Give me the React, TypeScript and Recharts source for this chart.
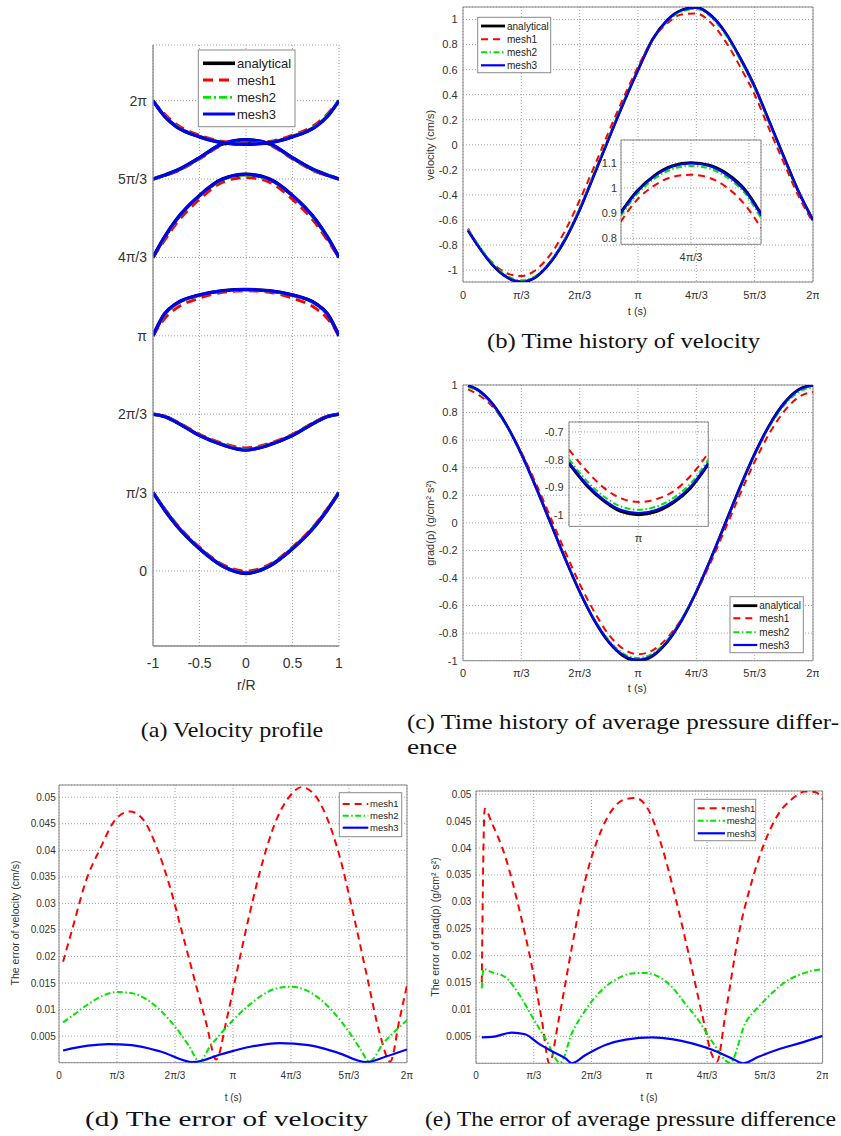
import React from 'react';
import { LineChart, Line, XAxis, YAxis, CartesianGrid, ReferenceArea } from 'recharts';

// ---------------- tick labels ----------------
const PI_TICKS = [0, 1, 2, 3, 4, 5, 6];
const PI_LABELS = ['0', 'π/3', '2π/3', 'π', '4π/3', '5π/3', '2π'];
const R_TICKS = [-1, -0.5, 0, 0.5, 1];
const VEL_TICKS = [-1, -0.8, -0.6, -0.4, -0.2, 0, 0.2, 0.4, 0.6, 0.8, 1];
const GRAD_TICKS = [-1, -0.8, -0.6, -0.4, -0.2, 0, 0.2, 0.4, 0.6, 0.8, 1];
const ERR_TICKS = [0.005, 0.01, 0.015, 0.02, 0.025, 0.03, 0.035, 0.04, 0.045, 0.05];
const INSET_B_YTICKS = [0.8, 0.9, 1.0, 1.1];
const INSET_B_XTICKS = [3.5225, 4, 4.4775];
const INSET_B_XLABELS = ['', '4π/3', ''];
const INSET_C_YTICKS = [-1, -0.9, -0.8, -0.7];
const INSET_C_XTICKS = [2.5225, 3, 3.4775];
const INSET_C_XLABELS = ['', 'π', ''];

// ---------------- (a) velocity profiles (y in units of π/3) ----------------
const R_A = [-1, -0.875, -0.75, -0.5, -0.25, 0, 0.25, 0.5, 0.75, 0.875, 1];
const A1_ANALYTICAL = [1.0, 0.78, 0.585, 0.285, 0.062, -0.03, 0.062, 0.285, 0.585, 0.78, 1.0];
const A1_MESH1 = [1.0, 0.795, 0.605, 0.305, 0.082, 0.0, 0.082, 0.305, 0.605, 0.795, 1.0];
const A1_MESH2 = [1.0, 0.785, 0.59, 0.29, 0.067, -0.022, 0.067, 0.29, 0.59, 0.785, 1.0];
const A1_MESH3 = [1.0, 0.78, 0.585, 0.285, 0.062, -0.028, 0.062, 0.285, 0.585, 0.78, 1.0];
const A2_ANALYTICAL = [2.0, 1.97, 1.9, 1.73, 1.61, 1.545, 1.61, 1.73, 1.9, 1.97, 2.0];
const A2_MESH1 = [2.0, 1.975, 1.91, 1.745, 1.628, 1.57, 1.628, 1.745, 1.91, 1.975, 2.0];
const A2_MESH2 = [2.0, 1.972, 1.903, 1.735, 1.615, 1.552, 1.615, 1.735, 1.903, 1.972, 2.0];
const A2_MESH3 = [2.0, 1.97, 1.9, 1.73, 1.608, 1.542, 1.608, 1.73, 1.9, 1.97, 2.0];
const A3_ANALYTICAL = [3.0, 3.28, 3.41, 3.52, 3.575, 3.59, 3.575, 3.52, 3.41, 3.28, 3.0];
const A3_MESH1 = [3.0, 3.22, 3.35, 3.48, 3.555, 3.575, 3.555, 3.48, 3.35, 3.22, 3.0];
const A3_MESH2 = [3.0, 3.27, 3.4, 3.515, 3.57, 3.585, 3.57, 3.515, 3.4, 3.27, 3.0];
const A3_MESH3 = [3.0, 3.28, 3.41, 3.52, 3.575, 3.59, 3.575, 3.52, 3.41, 3.28, 3.0];
const A4_ANALYTICAL = [4.0, 4.26, 4.48, 4.79, 5.0, 5.06, 5.0, 4.79, 4.48, 4.26, 4.0];
const A4_MESH1 = [4.0, 4.22, 4.43, 4.74, 4.96, 5.02, 4.96, 4.74, 4.43, 4.22, 4.0];
const A4_MESH2 = [4.0, 4.25, 4.47, 4.785, 4.99, 5.05, 4.99, 4.785, 4.47, 4.25, 4.0];
const A4_MESH3 = [4.0, 4.26, 4.48, 4.79, 5.0, 5.06, 5.0, 4.79, 4.48, 4.26, 4.0];
const A5_ANALYTICAL = [5.0, 5.05, 5.106, 5.27, 5.45, 5.5, 5.45, 5.27, 5.106, 5.05, 5.0];
const A5_MESH1 = [5.0, 5.045, 5.095, 5.255, 5.435, 5.485, 5.435, 5.255, 5.095, 5.045, 5.0];
const A5_MESH2 = [5.0, 5.05, 5.104, 5.265, 5.446, 5.497, 5.446, 5.265, 5.104, 5.05, 5.0];
const A5_MESH3 = [5.0, 5.05, 5.106, 5.27, 5.45, 5.5, 5.45, 5.27, 5.106, 5.05, 5.0];
const A6_ANALYTICAL = [6.0, 5.8, 5.67, 5.54, 5.465, 5.445, 5.465, 5.54, 5.67, 5.8, 6.0];
const A6_MESH1 = [6.0, 5.83, 5.7, 5.56, 5.48, 5.455, 5.48, 5.56, 5.7, 5.83, 6.0];
const A6_MESH2 = [6.0, 5.81, 5.68, 5.545, 5.47, 5.448, 5.47, 5.545, 5.68, 5.81, 6.0];
const A6_MESH3 = [6.0, 5.8, 5.67, 5.54, 5.465, 5.445, 5.465, 5.54, 5.67, 5.8, 6.0];

// ---------------- (b) velocity history (t in units of π/3) ----------------
const T_B = [0.086, 0.25, 0.5, 0.75, 1, 1.25, 1.5, 1.75, 2, 2.25, 2.5, 2.75, 3, 3.25, 3.5, 3.75, 4, 4.25, 4.5, 4.75, 5, 5.25, 5.5, 5.75, 6];
const B_ANALYTICAL = [-0.681, -0.8, -0.955, -1.056, -1.095, -1.055, -0.937, -0.758, -0.518, -0.236, 0.053, 0.333, 0.597, 0.843, 0.995, 1.076, 1.097, 1.033, 0.895, 0.695, 0.464, 0.187, -0.096, -0.371, -0.6];
const B_MESH1 = [-0.668, -0.8, -0.94, -1.025, -1.048, -0.998, -0.874, -0.686, -0.442, -0.173, 0.106, 0.374, 0.623, 0.84, 0.97, 1.04, 1.048, 0.974, 0.826, 0.624, 0.4, 0.125, -0.144, -0.408, -0.62];
const B_MESH2 = [-0.675, -0.79, -0.945, -1.043, -1.082, -1.045, -0.928, -0.745, -0.505, -0.225, 0.06, 0.338, 0.598, 0.838, 0.985, 1.064, 1.085, 1.02, 0.88, 0.68, 0.45, 0.175, -0.105, -0.375, -0.6];
const B_MESH3 = [-0.685, -0.802, -0.955, -1.055, -1.093, -1.054, -0.937, -0.758, -0.52, -0.238, 0.05, 0.331, 0.595, 0.84, 0.993, 1.074, 1.095, 1.031, 0.893, 0.694, 0.463, 0.186, -0.096, -0.37, -0.6];
const T_BI = [3.42, 3.55, 3.7, 3.85, 4.0, 4.15, 4.3, 4.45, 4.58];
const BI_ANALYTICAL = [0.902, 0.985, 1.05, 1.088, 1.1, 1.09, 1.055, 0.99, 0.895];
const BI_MESH1 = [0.865, 0.95, 1.01, 1.044, 1.052, 1.04, 1.0, 0.93, 0.84];
const BI_MESH2 = [0.888, 0.972, 1.037, 1.075, 1.087, 1.077, 1.04, 0.975, 0.878];
const BI_MESH3 = [0.898, 0.982, 1.047, 1.085, 1.097, 1.087, 1.05, 0.985, 0.89];

// ---------------- (c) pressure gradient history ----------------
const T_C = [0.086, 0.25, 0.5, 0.75, 1, 1.25, 1.5, 1.75, 2, 2.25, 2.5, 2.75, 3, 3.25, 3.5, 3.75, 4, 4.25, 4.5, 4.75, 5, 5.25, 5.5, 5.75, 6];
const C_ANALYTICAL = [0.996, 0.966, 0.866, 0.707, 0.5, 0.259, 0.0, -0.259, -0.5, -0.707, -0.866, -0.966, -1.0, -0.966, -0.866, -0.707, -0.5, -0.259, 0.0, 0.259, 0.5, 0.707, 0.866, 0.966, 1.0];
const C_MESH1 = [0.968, 0.932, 0.846, 0.703, 0.512, 0.286, 0.04, -0.208, -0.443, -0.645, -0.812, -0.915, -0.953, -0.925, -0.835, -0.695, -0.505, -0.283, -0.04, 0.208, 0.443, 0.647, 0.806, 0.911, 0.95];
const C_MESH2 = [0.985, 0.955, 0.856, 0.698, 0.493, 0.254, -0.002, -0.256, -0.493, -0.695, -0.851, -0.948, -0.981, -0.948, -0.851, -0.695, -0.493, -0.256, -0.002, 0.252, 0.49, 0.694, 0.85, 0.948, 0.982];
const C_MESH3 = [0.994, 0.964, 0.864, 0.705, 0.499, 0.258, 0.0, -0.258, -0.498, -0.704, -0.862, -0.96, -0.993, -0.96, -0.862, -0.704, -0.498, -0.258, 0.0, 0.258, 0.498, 0.704, 0.862, 0.962, 0.995];
const T_CI = [2.432, 2.579, 2.717, 2.853, 3.0, 3.149, 3.285, 3.421, 3.568];
const CI_ANALYTICAL = [-0.815, -0.895, -0.95, -0.987, -0.999, -0.987, -0.955, -0.904, -0.817];
const CI_MESH1 = [-0.764, -0.842, -0.902, -0.939, -0.953, -0.942, -0.914, -0.86, -0.776];
const CI_MESH2 = [-0.798, -0.878, -0.933, -0.969, -0.981, -0.969, -0.938, -0.887, -0.8];
const CI_MESH3 = [-0.81, -0.89, -0.945, -0.981, -0.993, -0.981, -0.95, -0.899, -0.812];

// ---------------- (d) error of velocity ----------------
const T_D1 = [0.07, 0.24, 0.47, 0.7, 0.99, 1.22, 1.45, 1.68, 1.91, 2.14, 2.37, 2.54, 2.71, 2.89, 3.06, 3.29, 3.52, 3.75, 3.98, 4.18, 4.38, 4.61, 4.84, 5.07, 5.3, 5.53, 5.71, 5.87, 6.0];
const D_MESH1 = [0.019, 0.0256, 0.0344, 0.0401, 0.046, 0.0473, 0.0458, 0.0407, 0.0332, 0.0238, 0.0143, 0.0074, 0.0006, 0.0081, 0.0168, 0.0282, 0.0382, 0.0458, 0.0502, 0.0519, 0.0508, 0.0464, 0.0388, 0.0282, 0.0168, 0.0055, 0.0002, 0.0081, 0.0146];
const T_D2 = [0.07, 0.25, 0.5, 0.75, 1.0, 1.25, 1.5, 1.75, 2.0, 2.25, 2.42, 2.6, 2.8, 3.0, 3.25, 3.5, 3.75, 4.0, 4.25, 4.5, 4.75, 5.0, 5.2, 5.35, 5.6, 5.8, 6.0];
const D_MESH2 = [0.0076, 0.009, 0.011, 0.0126, 0.0133, 0.0131, 0.012, 0.0098, 0.0068, 0.003, 0.0002, 0.003, 0.0056, 0.008, 0.0106, 0.0127, 0.014, 0.0143, 0.0137, 0.012, 0.0093, 0.0058, 0.0025, 0.0002, 0.0038, 0.006, 0.008];
const T_D3 = [0.07, 0.5, 0.85, 1.25, 1.75, 2.31, 2.8, 3.3, 3.8, 4.3, 4.8, 5.3, 5.65, 6.0];
const D_MESH3 = [0.0023, 0.0032, 0.0035, 0.0033, 0.0021, 0.0001, 0.0016, 0.003, 0.0037, 0.0033, 0.0019, 0.0001, 0.0012, 0.0025];

// ---------------- (e) error of pressure gradient ----------------
const T_E1 = [0.1, 0.15, 0.28, 0.51, 0.74, 0.97, 1.14, 1.27, 1.43, 1.66, 1.89, 2.12, 2.35, 2.59, 2.76, 2.99, 3.22, 3.45, 3.68, 3.91, 4.1, 4.17, 4.32, 4.55, 4.78, 5.01, 5.24, 5.47, 5.7, 5.87, 6.0];
const E_MESH1 = [0.015, 0.0473, 0.0445, 0.0383, 0.029, 0.0179, 0.008, 0.0, 0.008, 0.0216, 0.034, 0.042, 0.047, 0.0491, 0.0493, 0.047, 0.0402, 0.0309, 0.0204, 0.0093, 0.0012, 0.0003, 0.0093, 0.0241, 0.034, 0.0414, 0.0464, 0.0491, 0.0505, 0.0504, 0.0491];
const T_E2 = [0.1, 0.13, 0.28, 0.51, 0.74, 0.97, 1.2, 1.46, 1.66, 1.89, 2.12, 2.41, 2.7, 2.93, 3.16, 3.39, 3.62, 3.85, 4.09, 4.4, 4.66, 4.89, 5.12, 5.35, 5.59, 5.82, 6.0];
const E_MESH2 = [0.0139, 0.0175, 0.0169, 0.016, 0.0129, 0.0087, 0.0046, 0.0001, 0.0056, 0.0098, 0.013, 0.0155, 0.0167, 0.0168, 0.0161, 0.0142, 0.0111, 0.008, 0.004, 0.0001, 0.0074, 0.0105, 0.013, 0.0151, 0.0164, 0.0172, 0.0175];
const T_E3 = [0.1, 0.28, 0.62, 0.85, 1.08, 1.32, 1.55, 1.66, 1.89, 2.24, 2.59, 3.05, 3.39, 3.74, 4.09, 4.43, 4.63, 4.89, 5.24, 5.59, 6.0];
const E_MESH3 = [0.0048, 0.0049, 0.0057, 0.0054, 0.0037, 0.0022, 0.0009, 0.0, 0.0015, 0.0034, 0.0044, 0.0048, 0.0045, 0.0037, 0.0025, 0.0009, 0.0, 0.0012, 0.0026, 0.0037, 0.0051];

// ---------------- styles ----------------
const SANS = '"Liberation Sans", Arial, Helvetica, sans-serif';
const SERIF = '"Liberation Serif", "Times New Roman", serif';
const TICK_COLOR = '#333333';
const AXIS_COLOR = '#8a8a8a';
const GRID_COLOR = '#a0a0a0';

type Key = 'analytical' | 'mesh1' | 'mesh2' | 'mesh3';
type LineStyle = { name: string; stroke: string; dash?: string; width: number };
const STYLE: Record<Key, LineStyle> = {
  analytical: { name: 'analytical', stroke: '#000000', width: 2.8 },
  mesh1: { name: 'mesh1', stroke: '#ff0000', dash: '7 5', width: 2 },
  mesh2: { name: 'mesh2', stroke: '#00e600', dash: '6 2.5 1.5 2.5', width: 2 },
  mesh3: { name: 'mesh3', stroke: '#0000ff', width: 2.2 },
};
const STYLE_BOLD: Record<Key, LineStyle> = {
  analytical: { name: 'analytical', stroke: '#000000', width: 3.6 },
  mesh1: { name: 'mesh1', stroke: '#ff0000', dash: '10 6', width: 2.8 },
  mesh2: { name: 'mesh2', stroke: '#00e600', dash: '8 3 2 3', width: 2.8 },
  mesh3: { name: 'mesh3', stroke: '#0000ff', width: 3 },
};

const pts = (xs: number[], ys: number[]) => xs.map((x, i) => ({ x, y: ys[i] }));
const piFmt = (v: number) => PI_LABELS[PI_TICKS.indexOf(Math.round(v))] ?? '';
const numFmt = (d: number) => (v: number) => String(Number(v.toFixed(d)));
const labelFmt = (ticks: number[], labels: string[]) => (v: number) => {
  const i = ticks.findIndex((t) => Math.abs(t - v) < 1e-6);
  return i >= 0 ? labels[i] : '';
};

type Ser = { key: Key; data: { x: number; y: number }[] };
interface PlotProps {
  box: [number, number, number, number];
  yw: number;
  xh: number;
  xDomain: [number, number];
  yDomain: [number, number];
  xTicks: number[];
  xFmt: (v: number) => string;
  yTicks: number[];
  yFmt: (v: number) => string;
  fontSize: number;
  xTickOffset: number;
  yTickGap: number;
  series: Ser[];
  frame: 'box' | 'axes';
  whiteBg?: boolean;
  styles?: Record<Key, LineStyle>;
}

function Plot(p: PlotProps) {
  const [l, t, r, b] = p.box;
  const padT = 10;
  const padR = 6;
  const left = l - p.yw;
  const top = t - padT;
  const width = r - left + padR;
  const height = b + p.xh - top;
  const styles = p.styles ?? STYLE;
  const tickStyle = { fontSize: p.fontSize, fill: TICK_COLOR, fontFamily: SANS };
  const axisLine = p.frame === 'axes' ? { stroke: AXIS_COLOR, strokeWidth: 1.3 } : false;
  return (
    <div style={{ position: 'absolute', left, top, width, height }}>
      <LineChart width={width} height={height} margin={{ top: padT, right: padR, left: 0, bottom: 0 }}>
        <CartesianGrid
          stroke={GRID_COLOR}
          strokeDasharray="1 2"
          fill={p.whiteBg ? '#ffffff' : 'none'}
          fillOpacity={1}
        />
        <XAxis
          dataKey="x"
          type="number"
          domain={p.xDomain}
          ticks={p.xTicks}
          tickFormatter={p.xFmt}
          interval={0}
          allowDataOverflow
          height={p.xh}
          tickSize={0}
          tickMargin={p.xTickOffset}
          tickLine={false}
          axisLine={axisLine}
          tick={tickStyle}
        />
        <YAxis
          dataKey="y"
          type="number"
          domain={p.yDomain}
          ticks={p.yTicks}
          tickFormatter={p.yFmt}
          interval={0}
          allowDataOverflow
          width={p.yw}
          tickSize={0}
          tickMargin={p.yTickGap}
          tickLine={false}
          axisLine={axisLine}
          tick={tickStyle}
        />
        {p.frame === 'box' && (
          <ReferenceArea
            x1={p.xDomain[0]}
            x2={p.xDomain[1]}
            y1={p.yDomain[0]}
            y2={p.yDomain[1]}
            fill="none"
            stroke={AXIS_COLOR}
            strokeWidth={1}
            ifOverflow="visible"
          />
        )}
        {p.series.map((s, i) => {
          const st = styles[s.key];
          return (
            <Line
              key={i}
              data={s.data}
              dataKey="y"
              name={st.name}
              type="monotone"
              stroke={st.stroke}
              strokeWidth={st.width}
              strokeDasharray={st.dash}
              dot={false}
              activeDot={false}
              isAnimationActive={false}
            />
          );
        })}
      </LineChart>
    </div>
  );
}

function LegendBox(props: {
  rect: [number, number, number, number];
  keys: Key[];
  rows: number[];
  lx: [number, number];
  tx: number;
  fontSize: number;
  styles?: Record<Key, LineStyle>;
}) {
  const [x1, y1, x2, y2] = props.rect;
  const styles = props.styles ?? STYLE;
  return (
    <g>
      <rect x={x1} y={y1} width={x2 - x1} height={y2 - y1} fill="#ffffff" stroke={AXIS_COLOR} strokeWidth={1} />
      {props.keys.map((k, i) => {
        const st = styles[k];
        return (
          <g key={k}>
            <line
              x1={props.lx[0]}
              x2={props.lx[1]}
              y1={props.rows[i]}
              y2={props.rows[i]}
              stroke={st.stroke}
              strokeWidth={st.width}
              strokeDasharray={st.dash}
            />
            <text x={props.tx} y={props.rows[i]} dy="0.35em" fontSize={props.fontSize} fontFamily={SANS} fill="#222">
              {st.name}
            </text>
          </g>
        );
      })}
    </g>
  );
}

function Caption({ x1, x2, y, text }: { x1: number; x2: number; y: number; text: string }) {
  return (
    <text x={x1} y={y} fontSize={22} fontFamily={SERIF} fill="#111" textLength={x2 - x1} lengthAdjust="spacingAndGlyphs">
      {text}
    </text>
  );
}

function AxisTitle({ x, y, text, size, rotate }: { x: number; y: number; text: string; size: number; rotate?: boolean }) {
  return (
    <text
      x={x}
      y={y}
      dy="0.35em"
      textAnchor="middle"
      fontSize={size}
      fontFamily={SANS}
      fill="#333"
      transform={rotate ? `rotate(-90 ${x} ${y})` : undefined}
    >
      {text}
    </text>
  );
}

const ALL: Key[] = ['analytical', 'mesh1', 'mesh2', 'mesh3'];
const MESHES: Key[] = ['mesh1', 'mesh2', 'mesh3'];

export default function App() {
  const seriesA: Ser[] = [
    [A1_ANALYTICAL, A1_MESH1, A1_MESH2, A1_MESH3],
    [A2_ANALYTICAL, A2_MESH1, A2_MESH2, A2_MESH3],
    [A3_ANALYTICAL, A3_MESH1, A3_MESH2, A3_MESH3],
    [A4_ANALYTICAL, A4_MESH1, A4_MESH2, A4_MESH3],
    [A5_ANALYTICAL, A5_MESH1, A5_MESH2, A5_MESH3],
    [A6_ANALYTICAL, A6_MESH1, A6_MESH2, A6_MESH3],
  ].flatMap((group) => group.map((ys, i) => ({ key: ALL[i], data: pts(R_A, ys) })));

  const seriesB: Ser[] = [B_ANALYTICAL, B_MESH1, B_MESH2, B_MESH3].map((ys, i) => ({ key: ALL[i], data: pts(T_B, ys) }));
  const seriesBI: Ser[] = [BI_ANALYTICAL, BI_MESH1, BI_MESH2, BI_MESH3].map((ys, i) => ({ key: ALL[i], data: pts(T_BI, ys) }));
  const seriesC: Ser[] = [C_ANALYTICAL, C_MESH1, C_MESH2, C_MESH3].map((ys, i) => ({ key: ALL[i], data: pts(T_C, ys) }));
  const seriesCI: Ser[] = [CI_ANALYTICAL, CI_MESH1, CI_MESH2, CI_MESH3].map((ys, i) => ({ key: ALL[i], data: pts(T_CI, ys) }));
  const seriesD: Ser[] = [
    { key: 'mesh1', data: pts(T_D1, D_MESH1) },
    { key: 'mesh2', data: pts(T_D2, D_MESH2) },
    { key: 'mesh3', data: pts(T_D3, D_MESH3) },
  ];
  const seriesE: Ser[] = [
    { key: 'mesh1', data: pts(T_E1, E_MESH1) },
    { key: 'mesh2', data: pts(T_E2, E_MESH2) },
    { key: 'mesh3', data: pts(T_E3, E_MESH3) },
  ];

  return (
    <div style={{ position: 'absolute', left: 0, top: 0, width: 841, height: 1136, background: '#fff', overflow: 'hidden' }}>
      {/* (a) */}
      <Plot
        box={[153.3, 45, 339.3, 646]}
        yw={60}
        xh={30}
        xDomain={[-1, 1]}
        yDomain={[-0.957, 6.71]}
        xTicks={R_TICKS}
        xFmt={numFmt(1)}
        yTicks={PI_TICKS}
        yFmt={piFmt}
        fontSize={14}
        xTickOffset={12}
        yTickGap={6}
        series={seriesA}
        frame="axes"
        styles={STYLE_BOLD}
      />
      {/* (b) */}
      <Plot
        box={[462.7, 6.7, 812.7, 281.7]}
        yw={50}
        xh={24}
        xDomain={[0, 6]}
        yDomain={[-1.095, 1.1]}
        xTicks={PI_TICKS}
        xFmt={piFmt}
        yTicks={VEL_TICKS}
        yFmt={numFmt(1)}
        fontSize={11}
        xTickOffset={9.4}
        yTickGap={5.4}
        series={seriesB}
        frame="box"
      />
      <Plot
        box={[620.7, 140, 760.7, 244.3]}
        yw={32}
        xh={20}
        xDomain={[3.423, 4.577]}
        yDomain={[0.776, 1.19]}
        xTicks={INSET_B_XTICKS}
        xFmt={labelFmt(INSET_B_XTICKS, INSET_B_XLABELS)}
        yTicks={INSET_B_YTICKS}
        yFmt={numFmt(1)}
        fontSize={11}
        xTickOffset={8.5}
        yTickGap={4}
        series={seriesBI}
        frame="box"
        whiteBg
      />
      {/* (c) */}
      <Plot
        box={[462.7, 385, 812.7, 660.7]}
        yw={50}
        xh={24}
        xDomain={[0, 6]}
        yDomain={[-1, 1]}
        xTicks={PI_TICKS}
        xFmt={piFmt}
        yTicks={GRAD_TICKS}
        yFmt={numFmt(1)}
        fontSize={11}
        xTickOffset={8.1}
        yTickGap={5.4}
        series={seriesC}
        frame="box"
      />
      <Plot
        box={[568.7, 422.3, 708, 526.7]}
        yw={32}
        xh={20}
        xDomain={[2.432, 3.568]}
        yDomain={[-1.041, -0.664]}
        xTicks={INSET_C_XTICKS}
        xFmt={labelFmt(INSET_C_XTICKS, INSET_C_XLABELS)}
        yTicks={INSET_C_YTICKS}
        yFmt={numFmt(1)}
        fontSize={11}
        xTickOffset={7.7}
        yTickGap={5.4}
        series={seriesCI}
        frame="box"
        whiteBg
      />
      {/* (d) */}
      <Plot
        box={[59.3, 785, 407.3, 1062.7]}
        yw={40}
        xh={22}
        xDomain={[0, 6]}
        yDomain={[0, 0.0523]}
        xTicks={PI_TICKS}
        xFmt={piFmt}
        yTicks={ERR_TICKS}
        yFmt={numFmt(3)}
        fontSize={10}
        xTickOffset={8.8}
        yTickGap={3.3}
        series={seriesD}
        frame="box"
      />
      {/* (e) */}
      <Plot
        box={[475.7, 791, 822.3, 1063.3]}
        yw={40}
        xh={22}
        xDomain={[0, 6]}
        yDomain={[0, 0.0506]}
        xTicks={PI_TICKS}
        xFmt={piFmt}
        yTicks={ERR_TICKS}
        yFmt={numFmt(3)}
        fontSize={10}
        xTickOffset={8.2}
        yTickGap={4.7}
        series={seriesE}
        frame="box"
      />

      <svg width={841} height={1136} style={{ position: 'absolute', left: 0, top: 0, pointerEvents: 'none' }}>
        <LegendBox rect={[198.3, 50, 295, 126.7]} keys={ALL} rows={[63.3, 80, 97.3, 114]} lx={[203, 235]} tx={237} fontSize={13} styles={STYLE_BOLD} />
        <LegendBox rect={[477.7, 17.3, 550.7, 72.7]} keys={ALL} rows={[26, 39.3, 52.3, 65.3]} lx={[481, 505]} tx={507} fontSize={10} />
        <LegendBox rect={[730, 596.7, 803.3, 652.7]} keys={ALL} rows={[605.7, 618.3, 632.3, 645]} lx={[733.3, 757.3]} tx={759.3} fontSize={10} />
        <LegendBox rect={[339.3, 792.7, 401.7, 836.7]} keys={MESHES} rows={[804, 815.7, 827.7]} lx={[342.7, 368.3]} tx={370} fontSize={9.5} />
        <LegendBox rect={[694.3, 799.3, 755.7, 840.7]} keys={MESHES} rows={[808.3, 820.7, 833.3]} lx={[697.7, 725]} tx={726.7} fontSize={9.5} />

        <AxisTitle x={246.3} y={685} text="r/R" size={14} />
        <AxisTitle x={637.3} y={310.7} text="t (s)" size={11} />
        <AxisTitle x={430} y={145} text="velocity (cm/s)" size={11} rotate />
        <AxisTitle x={637.3} y={688.3} text="t (s)" size={11} />
        <AxisTitle x={430} y={523} text="grad(p) (g/cm² s²)" size={11} rotate />
        <AxisTitle x={233.3} y={1097} text="t (s)" size={10} />
        <AxisTitle x={15} y={923} text="The error of velocity (cm/s)" size={10.5} rotate />
        <AxisTitle x={649} y={1097} text="t (s)" size={10} />
        <AxisTitle x={435} y={927} text="The error of grad(p) (g/cm² s²)" size={10.5} rotate />

        <Caption x1={140.7} x2={323.3} y={736.5} text="(a) Velocity profile" />
        <Caption x1={487} x2={760} y={347.5} text="(b) Time history of velocity" />
        <Caption x1={407} x2={839} y={729} text="(c) Time history of average pressure differ-" />
        <Caption x1={407} x2={457} y={753.5} text="ence" />
        <Caption x1={85} x2={368} y={1125.5} text="(d) The error of velocity" />
        <Caption x1={425} x2={836} y={1125.5} text="(e) The error of average pressure difference" />
      </svg>
    </div>
  );
}
